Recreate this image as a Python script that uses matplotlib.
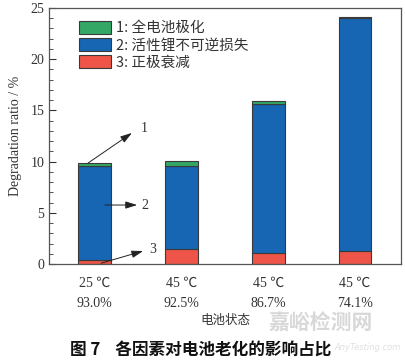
import matplotlib
matplotlib.use("Agg")
import matplotlib.pyplot as plt
import numpy as np
from matplotlib.ticker import MultipleLocator

# Data
temps = ["25 ℃", "45 ℃", "45 ℃", "45 ℃"]
soh = ["93.0%", "92.5%", "86.7%", "74.1%"]
cathode_loss = [0.40, 1.50, 1.10, 1.25]        # 3: 正极衰减
lli_loss = [9.20, 8.10, 14.50, 22.75]          # 2: 活性锂不可逆损失
polarization = [0.30, 0.45, 0.30, 0.10]        # 1: 全电池极化
legend_labels = ["1: 全电池极化", "2: 活性锂不可逆损失", "3: 正极衰减"]

serif = ["Liberation Serif", "Noto Sans CJK SC"]
cjk = ["Noto Sans CJK SC", "DejaVu Sans"]

c_green = "#34a665"
c_blue = "#1666b4"
c_red = "#ee5548"
edge = "#3a3a3a"

fig = plt.figure(figsize=(4.06, 3.64), dpi=100)
ax = fig.add_axes([0.1207, 0.2747, 0.867, 0.7033])

x = np.arange(len(temps))
w = 0.38
b1 = ax.bar(x, cathode_loss, w, color=c_red, edgecolor=edge, linewidth=0.8)
b2 = ax.bar(x, lli_loss, w, bottom=cathode_loss, color=c_blue, edgecolor=edge, linewidth=0.8)
bot3 = np.array(cathode_loss) + np.array(lli_loss)
b3 = ax.bar(x, polarization, w, bottom=bot3, color=c_green, edgecolor=edge, linewidth=0.8)

ax.set_xlim(-0.525, 3.53)
ax.set_ylim(0, 25)
ax.yaxis.set_major_locator(MultipleLocator(5))
ax.yaxis.set_minor_locator(MultipleLocator(1))
ax.tick_params(axis="y", which="both", direction="in", right=False, labelsize=10, colors="#333333")
ax.tick_params(axis="y", which="major", length=5)
ax.tick_params(axis="y", which="minor", length=3)
ax.tick_params(axis="x", length=0, pad=9)
for lab in ax.get_yticklabels():
    lab.set_family(serif)
ax.set_xticks(x)
ax.set_xticklabels([f"{t}\n{s}" for t, s in zip(temps, soh)], family=serif, fontsize=10,
                   color="#333333", linespacing=1.75)
for sp in ax.spines.values():
    sp.set_color("#555555")
    sp.set_linewidth(0.9)

ax.set_ylabel("Degradation ratio / %", family=serif, fontsize=10, color="#333333", labelpad=6)
ax.set_xlabel("电池状态", family=cjk, fontsize=9, color="#333333", labelpad=3)

leg = ax.legend([b3, b2, b1], legend_labels, loc="upper left", bbox_to_anchor=(0.055, 0.99),
                frameon=False, prop={"family": cjk, "size": 10.5}, handlelength=2.2,
                handleheight=1.0, labelspacing=0.18, handletextpad=0.35, borderaxespad=0.3)
for t in leg.get_texts():
    t.set_color("#333333")

arrow = dict(arrowstyle="-|>,head_length=0.7,head_width=0.22", color="#222222", lw=0.7,
             mutation_scale=10, shrinkA=0, shrinkB=0)
ax.annotate("", xy=(0.43, 12.8), xytext=(-0.075, 9.86), arrowprops=arrow)
ax.text(0.53, 13.2, "1", family=serif, fontsize=10, color="#333333", va="center")
ax.annotate("", xy=(0.49, 5.76), xytext=(0.12, 5.76), arrowprops=arrow)
ax.text(0.54, 5.76, "2", family=serif, fontsize=10, color="#333333", va="center")
ax.annotate("", xy=(0.56, 1.27), xytext=(0.075, 0.08), arrowprops=arrow)
ax.text(0.63, 1.46, "3", family=serif, fontsize=10, color="#333333", va="center")

fig.text(0.495, 0.038, "图 7    各因素对电池老化的影响占比", family=cjk, fontsize=12,
         fontweight="bold", ha="center", va="center", color="#111111")
fig.text(0.79, 0.115, "嘉峪检测网", family=cjk, fontsize=15, fontweight="bold",
         ha="center", va="center", color="#d8d8d8", zorder=0)
fig.text(0.825, 0.045, "AnyTesting.com", family="DejaVu Sans", fontsize=6, style="italic",
         ha="left", va="center", color="#e0e0e0", zorder=0)

fig.savefig("out.png", dpi=100)
